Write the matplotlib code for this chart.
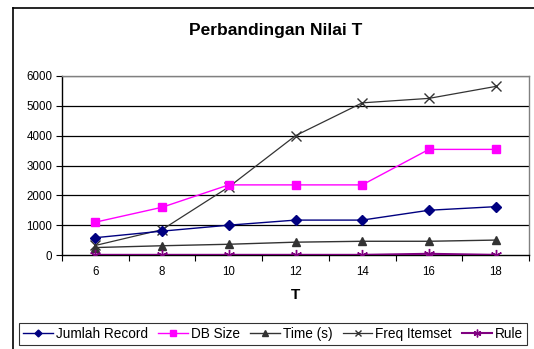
import matplotlib
matplotlib.use("Agg")
import matplotlib.pyplot as plt
from matplotlib.lines import Line2D
import numpy as np

plt.rcParams['font.family'] = ['Liberation Sans', 'DejaVu Sans']

categories = ['6', '8', '10', '12', '14', '16', '18']
jumlah_record = [580, 800, 1000, 1170, 1170, 1500, 1620]
db_size = [1100, 1600, 2350, 2350, 2350, 3540, 3540]
time_s = [250, 310, 360, 430, 460, 460, 500]
freq_itemset = [320, 850, 2280, 4000, 5100, 5250, 5650]
rule = [5, 5, 5, 5, 5, 40, 5]

yticks = [0, 1000, 2000, 3000, 4000, 5000, 6000]

fig = plt.figure(figsize=(5.34, 3.49), dpi=100)
fig.patch.set_facecolor('white')

W, H = 534, 349
ax = fig.add_axes([62 / W, 1 - 255 / H, (529 - 62) / W, (255 - 76) / H])

x = np.arange(len(categories))
ax.plot(x, jumlah_record, color='#000080', marker='D', markersize=5, lw=1, label='Jumlah Record', zorder=5)
ax.plot(x, db_size, color='#FF00FF', marker='s', markersize=6, lw=1, label='DB Size', zorder=4)
ax.plot(x, time_s, color='#333333', marker='^', markersize=6, lw=1, label='Time (s)', zorder=4)
ax.plot(x, freq_itemset, color='#333333', marker='x', markersize=7, mew=1, lw=0.9, label='Freq Itemset', zorder=3)
ax.plot(x, rule, color='#800080', marker=(6, 2, 0), markersize=8, mew=1, lw=1.5, label='Rule', zorder=6)

ax.set_xlim(-0.5, len(categories) - 0.5)
ax.set_ylim(0, 6000)
ax.set_yticks(yticks)
ax.set_yticklabels([str(v) for v in yticks], fontsize=8.3)
ax.set_xticks(x)
ax.set_xticklabels(categories, fontsize=8.3)
ax.set_xticks(np.arange(-0.5, len(categories), 1), minor=True)
ax.tick_params(axis='x', which='major', length=0, pad=8)
ax.tick_params(axis='x', which='minor', length=4, direction='out', width=0.8)
ax.tick_params(axis='y', length=4, direction='out', width=0.8, pad=3)

for v in yticks[1:-1]:
    ax.axhline(v, color='black', lw=0.9, zorder=1)
ax.axhline(6000, color='#808080', lw=1.0, zorder=1)

ax.spines['top'].set_color('#808080')
ax.spines['right'].set_color('#808080')
ax.spines['left'].set_color('black')
ax.spines['bottom'].set_color('black')
for s in ax.spines.values():
    s.set_linewidth(1.0)

ax.set_xlabel('T', fontsize=11, fontweight='bold', labelpad=7)
fig.text(276 / W, 1 - 30 / H, 'Perbandingan Nilai T', ha='center', va='center',
         fontsize=12.5, fontweight='bold')

# outer chart border (left and top visible)
fig.add_artist(Line2D([13 / W, 13 / W], [0, 1 - 8 / H], transform=fig.transFigure, color='black', lw=1.2))
fig.add_artist(Line2D([13 / W, 1], [1 - 8 / H, 1 - 8 / H], transform=fig.transFigure, color='black', lw=1.2))

leg = fig.legend(loc='center', bbox_to_anchor=(273 / W, 1 - 334 / H), ncol=5, fontsize=9.8,
                 frameon=True, fancybox=False, edgecolor='black', handlelength=2.2,
                 handletextpad=0.2, columnspacing=0.75, borderpad=0.3, borderaxespad=0,
                 markerscale=0.7)
leg.get_frame().set_linewidth(0.8)

fig.savefig('out.png', dpi=100)
